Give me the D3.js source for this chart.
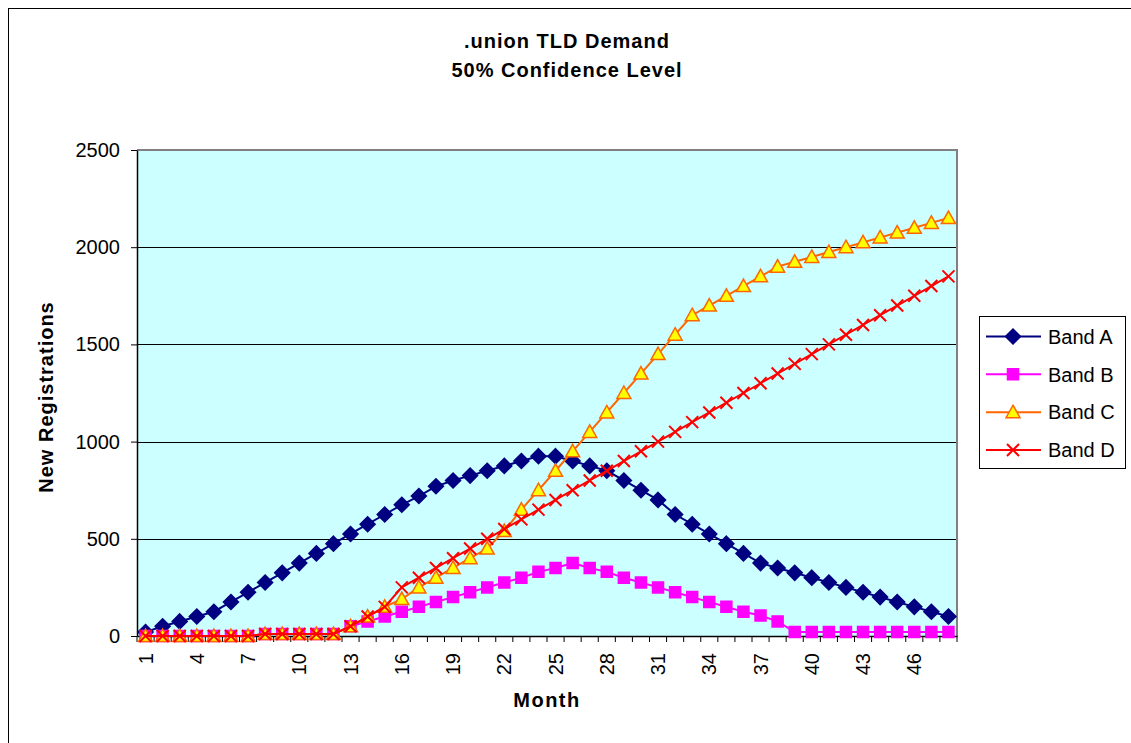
<!DOCTYPE html>
<html>
<head>
<meta charset="utf-8">
<script src="https://cdn.jsdelivr.net/npm/d3@7"></script>
<style>
  body { margin: 0; background: #fff; }
  svg { display: block; font-family: Arial, "Liberation Sans", sans-serif; }
</style>
</head>
<body>
<div id="chart"></div>
<script>
const months = [1,2,3,4,5,6,7,8,9,10,11,12,13,14,15,16,17,18,19,20,21,22,23,24,
  25,26,27,28,29,30,31,32,33,34,35,36,37,38,39,40,41,42,43,44,45,46,47,48];
const monthLabels = [1,4,7,10,13,16,19,22,25,28,31,34,37,40,43,46];
const yTicks = [0,500,1000,1500,2000,2500];

const bandA = [20,50,75,100,125,175,225,275,325,375,425,475,525,575,625,675,720,770,800,825,850,875,900,925,
  925,900,875,850,800,750,700,625,575,525,475,425,375,350,325,300,275,250,225,200,175,150,125,100];
const bandB = [0,0,0,0,0,0,0,10,10,10,10,10,50,75,100,125,150,175,200,225,250,275,300,330,
  350,375,350,330,300,275,250,225,200,175,150,125,105,75,20,20,20,20,20,20,20,20,20,20];
const bandC = [0,0,0,0,0,0,0,10,10,10,10,10,50,100,150,190,250,300,350,400,450,540,650,750,
  850,950,1050,1150,1250,1350,1450,1550,1650,1700,1750,1800,1850,1900,1925,1950,1975,2000,2025,2050,2075,2100,2125,2150];
const bandD = [0,0,0,0,0,0,0,10,10,10,10,10,50,100,150,250,300,350,400,450,500,550,600,650,
  700,750,800,850,900,950,1000,1050,1100,1150,1200,1250,1300,1350,1400,1450,1500,1550,1600,1650,1700,1750,1800,1850];

const seriesNames = ["Band A","Band B","Band C","Band D"];

const W = 1131, H = 743;
const plot = {left: 137, right: 957, top: 150, bottom: 636};

const svg = d3.select("#chart").append("svg")
    .attr("width", W)
    .attr("height", H);

// chart area border
svg.append("rect")
    .attr("x", 8.5).attr("y", 8.5)
    .attr("width", W + 20).attr("height", H + 20)
    .style("fill", "#fff")
    .style("stroke", "#000")
    .style("stroke-width", 1);

const x = d3.scaleBand()
    .domain(months)
    .range([plot.left, plot.right]);
const y = d3.scaleLinear()
    .domain([0, 2500])
    .range([plot.bottom, plot.top]);

// plot area
svg.append("rect")
    .attr("x", plot.left).attr("y", plot.top)
    .attr("width", plot.right - plot.left)
    .attr("height", plot.bottom - plot.top)
    .style("fill", "#CCFFFF");

// gridlines
svg.append("g").selectAll("line")
    .data(yTicks.filter(d => d > 0 && d < 2500))
    .join("line")
    .attr("x1", plot.left).attr("x2", plot.right)
    .attr("y1", d => Math.round(y(d)) + 0.5)
    .attr("y2", d => Math.round(y(d)) + 0.5)
    .style("stroke", "#000")
    .style("stroke-width", 1);

// gray border top / right
svg.append("path")
    .attr("d", `M${plot.left},${plot.top}H${plot.right}V${plot.bottom}`)
    .style("fill", "none")
    .style("stroke", "#808080")
    .style("stroke-width", 2);

// y axis
const yAxis = svg.append("g")
    .attr("transform", `translate(${plot.left},0)`)
    .call(d3.axisLeft(y).tickValues(yTicks).tickFormat(d3.format("d"))
      .tickSize(6).tickPadding(11).tickSizeOuter(0));
yAxis.select(".domain").style("stroke", "#000").style("stroke-width", 1.5);
yAxis.selectAll(".tick line").style("stroke", "#000");
yAxis.selectAll("text")
    .style("font-size", "20px")
    .style("fill", "#000");

// x axis: tick marks on category boundaries
const step = x.step();
svg.append("g").selectAll("line")
    .data(months.concat([months.length + 1]))
    .join("line")
    .attr("x1", (d, i) => plot.left + i * step)
    .attr("x2", (d, i) => plot.left + i * step)
    .attr("y1", plot.bottom)
    .attr("y2", plot.bottom + 6)
    .style("stroke", "#000");

const xAxis = svg.append("g")
    .attr("transform", `translate(0,${plot.bottom})`)
    .call(d3.axisBottom(x).tickValues(monthLabels).tickSize(0).tickSizeOuter(0));
xAxis.select(".domain").style("stroke", "#000").style("stroke-width", 1.5);
xAxis.selectAll("text")
    .attr("transform", "rotate(-90)")
    .attr("x", -17)
    .attr("y", 0)
    .attr("dy", "0.35em")
    .style("text-anchor", "end")
    .style("font-size", "20px")
    .style("fill", "#000");

// titles
const title = svg.append("text")
    .attr("text-anchor", "middle")
    .style("font-weight", "bold")
    .style("font-size", "20px")
    .style("letter-spacing", "1px");
title.append("tspan").attr("x", 567).attr("y", 48).text(".union TLD Demand");
title.append("tspan").attr("x", 567).attr("y", 77).text("50% Confidence Level");

svg.append("text")
    .attr("x", (plot.left + plot.right) / 2)
    .attr("y", 707)
    .attr("text-anchor", "middle")
    .style("font-weight", "bold")
    .style("font-size", "20px")
    .style("letter-spacing", "1.5px")
    .text("Month");

svg.append("text")
    .attr("transform", `translate(53,397) rotate(-90)`)
    .attr("text-anchor", "middle")
    .style("font-weight", "bold")
    .style("font-size", "20px")
    .style("letter-spacing", "1px")
    .text("New Registrations");

// series
const styles = [
  {values: bandA, line: "#000080", marker: "diamond", fill: "#000080", stroke: "#000080"},
  {values: bandB, line: "#FF00FF", marker: "square", fill: "#FF00FF", stroke: "#FF00FF"},
  {values: bandC, line: "#FF6600", marker: "triangle", fill: "#FFFF00", stroke: "#FF6600"},
  {values: bandD, line: "#FF0000", marker: "cross", fill: "none", stroke: "#FF0000"}
];

function markerPath(type) {
  if (type == "diamond") return "M0,-7.5L7.5,0L0,7.5L-7.5,0Z";
  if (type == "square") return "M-5.5,-5.5H5.5V5.5H-5.5Z";
  if (type == "triangle") return "M0,-7L7,5.5H-7Z";
  return "M-6,-6L6,6M-6,6L6,-6";
}

const line = d3.line()
    .x((d, i) => x(months[i]) + step / 2)
    .y(d => y(d));

styles.forEach(s => {
  const g = svg.append("g");
  g.append("path")
      .datum(s.values)
      .attr("d", line)
      .style("fill", "none")
      .style("stroke", s.line)
      .style("stroke-width", 2);
  g.selectAll("path.mk")
      .data(s.values)
      .join("path")
      .attr("class", "mk")
      .attr("transform", (d, i) => `translate(${x(months[i]) + step / 2},${y(d)})`)
      .attr("d", markerPath(s.marker))
      .style("fill", s.fill)
      .style("stroke", s.stroke)
      .style("stroke-width", s.marker == "cross" ? 2 : 1.5);
});

// legend
const legend = svg.append("g");
legend.append("rect")
    .attr("x", 979.5).attr("y", 316.5)
    .attr("width", 146).attr("height", 152)
    .style("fill", "#fff")
    .style("stroke", "#000");

const legendY = d3.scalePoint()
    .domain(seriesNames)
    .range([336.5, 450]);

seriesNames.forEach((name, i) => {
  const s = styles[i];
  const ly = legendY(name);
  legend.append("line")
      .attr("x1", 986).attr("x2", 1041)
      .attr("y1", ly).attr("y2", ly)
      .style("stroke", s.line)
      .style("stroke-width", 2);
  legend.append("path")
      .attr("transform", `translate(1013,${ly})`)
      .attr("d", markerPath(s.marker))
      .style("fill", s.fill)
      .style("stroke", s.stroke)
      .style("stroke-width", s.marker == "cross" ? 2 : 1.5);
  legend.append("text")
      .attr("x", 1048)
      .attr("y", ly)
      .attr("dy", "0.36em")
      .style("font-size", "20px")
      .text(name);
});
</script>
</body>
</html>
